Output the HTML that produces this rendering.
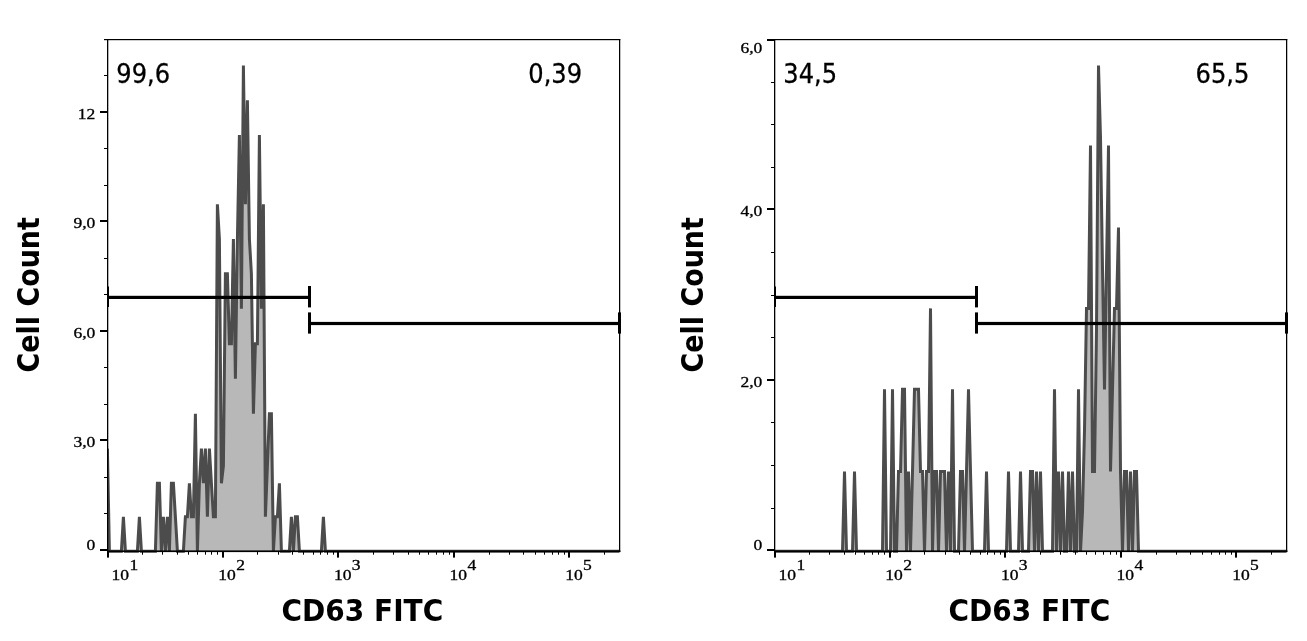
<!DOCTYPE html>
<html lang="en">
<head>
<meta charset="utf-8">
<title>CD63 FITC histograms</title>
<style>
html,body{margin:0;padding:0;background:#fff;}
body{width:1307px;height:641px;overflow:hidden;}
svg{display:block;}
.tk{font-family:"Liberation Serif","DejaVu Serif",serif;font-size:13.9px;fill:#000;stroke:#000;stroke-width:0.3px;}
.pc{font-family:"DejaVu Sans","Liberation Sans",sans-serif;font-size:27px;fill:#000;stroke:#000;stroke-width:0.3px;}
.ti{font-family:"DejaVu Sans","Liberation Sans",sans-serif;font-weight:bold;font-size:29.5px;fill:#000;}
</style>
</head>
<body>
<svg width="1307" height="641" viewBox="0 0 1307 641">
<rect x="0" y="0" width="1307" height="641" fill="#fff"/>
<defs>
<clipPath id="cl"><rect x="107.6" y="30" width="513.4" height="523"/></clipPath>
<clipPath id="cr"><rect x="774.6" y="30" width="513.4" height="523"/></clipPath>
</defs>
<g clip-path="url(#cl)">
<path d="M107.4 448.48 L109.4 551.2 L121.4 551.2 L123.4 516.81 L125.4 551.2 L137.4 551.2 L139.4 516.81 L141.4 551.2 L155.4 551.2 L157.4 483.22 L159.4 483.22 L161.4 551.2 L163.4 516.81 L165.4 551.2 L167.4 516.81 L169.4 551.2 L171.4 483.22 L173.4 483.22 L175.4 516.81 L177.4 551.2 L183.4 551.2 L185.4 516.81 L187.4 516.81 L189.4 483.22 L191.4 516.81 L193.4 516.81 L195.4 413.74 L197.4 551.2 L199.4 483.22 L201.4 448.48 L203.4 483.22 L205.4 448.48 L207.4 516.81 L209.4 448.48 L211.4 483.22 L213.4 516.81 L215.4 516.81 L217.4 204.3 L219.4 238.99 L221.4 483.22 L223.4 465.85 L225.4 273.68 L227.4 273.68 L229.4 343.71 L231.4 343.71 L233.4 238.99 L235.4 378.73 L237.4 238.99 L239.4 134.92 L241.4 308.7 L243.4 65.54 L245.4 204.3 L247.4 100.23 L249.4 238.99 L251.4 273.68 L253.4 413.74 L255.4 343.71 L257.4 343.71 L259.4 134.92 L261.4 308.7 L263.4 204.3 L265.4 516.81 L267.4 465.85 L269.4 413.74 L271.4 413.74 L273.4 551.2 L275.4 516.81 L277.4 516.81 L279.4 483.22 L281.4 551.2 L289.4 551.2 L291.4 516.81 L293.4 551.2 L295.4 516.81 L297.4 516.81 L299.4 551.2 L321.4 551.2 L323.4 516.81 L325.4 551.2 L619.4 551.2 L619.4 551.2 L107.4 551.2 Z" fill="#b8b8b8" stroke="none"/>
<path d="M107.4 448.48 L109.4 551.2 L121.4 551.2 L123.4 516.81 L125.4 551.2 L137.4 551.2 L139.4 516.81 L141.4 551.2 L155.4 551.2 L157.4 483.22 L159.4 483.22 L161.4 551.2 L163.4 516.81 L165.4 551.2 L167.4 516.81 L169.4 551.2 L171.4 483.22 L173.4 483.22 L175.4 516.81 L177.4 551.2 L183.4 551.2 L185.4 516.81 L187.4 516.81 L189.4 483.22 L191.4 516.81 L193.4 516.81 L195.4 413.74 L197.4 551.2 L199.4 483.22 L201.4 448.48 L203.4 483.22 L205.4 448.48 L207.4 516.81 L209.4 448.48 L211.4 483.22 L213.4 516.81 L215.4 516.81 L217.4 204.3 L219.4 238.99 L221.4 483.22 L223.4 465.85 L225.4 273.68 L227.4 273.68 L229.4 343.71 L231.4 343.71 L233.4 238.99 L235.4 378.73 L237.4 238.99 L239.4 134.92 L241.4 308.7 L243.4 65.54 L245.4 204.3 L247.4 100.23 L249.4 238.99 L251.4 273.68 L253.4 413.74 L255.4 343.71 L257.4 343.71 L259.4 134.92 L261.4 308.7 L263.4 204.3 L265.4 516.81 L267.4 465.85 L269.4 413.74 L271.4 413.74 L273.4 551.2 L275.4 516.81 L277.4 516.81 L279.4 483.22 L281.4 551.2 L289.4 551.2 L291.4 516.81 L293.4 551.2 L295.4 516.81 L297.4 516.81 L299.4 551.2 L321.4 551.2 L323.4 516.81 L325.4 551.2 L619.4 551.2" fill="none" stroke="#4c4c4c" stroke-width="3" stroke-linejoin="miter" stroke-miterlimit="4"/>
</g>
<g clip-path="url(#cl)" fill="#000">
<rect x="107" y="295.8" width="203.9" height="3.2" fill="#000"/>
<rect x="308" y="286" width="3" height="21.4" fill="#000"/>
<rect x="106" y="286.5" width="3" height="20.5" fill="#000"/>
<rect x="308" y="321.9" width="313" height="3.2" fill="#000"/>
<rect x="308" y="312.4" width="3" height="21.2" fill="#000"/>
<rect x="618" y="312.4" width="3" height="21.2" fill="#000"/>
</g>
<rect x="104" y="39" width="516.3" height="1.2" fill="#000"/>
<rect x="107" y="39" width="1.3" height="513" fill="#000"/>
<rect x="619" y="39" width="1.25" height="513" fill="#000"/>
<rect x="107" y="550.4" width="513.4" height="1.7" fill="#000"/>
<rect x="107" y="552" width="2" height="5.6" fill="#000"/>
<rect x="142" y="552" width="1" height="2.7" fill="#000"/>
<rect x="162" y="552" width="1" height="2.7" fill="#000"/>
<rect x="177" y="552" width="1" height="2.7" fill="#000"/>
<rect x="188" y="552" width="1" height="2.7" fill="#000"/>
<rect x="197" y="552" width="1" height="2.7" fill="#000"/>
<rect x="205" y="552" width="1" height="2.7" fill="#000"/>
<rect x="211" y="552" width="1" height="2.7" fill="#000"/>
<rect x="217" y="552" width="1" height="2.7" fill="#000"/>
<rect x="222" y="552" width="2" height="5.6" fill="#000"/>
<rect x="257" y="552" width="1" height="2.7" fill="#000"/>
<rect x="278" y="552" width="1" height="2.7" fill="#000"/>
<rect x="292" y="552" width="1" height="2.7" fill="#000"/>
<rect x="303" y="552" width="1" height="2.7" fill="#000"/>
<rect x="313" y="552" width="1" height="2.7" fill="#000"/>
<rect x="320" y="552" width="1" height="2.7" fill="#000"/>
<rect x="327" y="552" width="1" height="2.7" fill="#000"/>
<rect x="333" y="552" width="1" height="2.7" fill="#000"/>
<rect x="337" y="552" width="2" height="5.6" fill="#000"/>
<rect x="373" y="552" width="1" height="2.7" fill="#000"/>
<rect x="393" y="552" width="1" height="2.7" fill="#000"/>
<rect x="408" y="552" width="1" height="2.7" fill="#000"/>
<rect x="419" y="552" width="1" height="2.7" fill="#000"/>
<rect x="428" y="552" width="1" height="2.7" fill="#000"/>
<rect x="436" y="552" width="1" height="2.7" fill="#000"/>
<rect x="443" y="552" width="1" height="2.7" fill="#000"/>
<rect x="449" y="552" width="1" height="2.7" fill="#000"/>
<rect x="453" y="552" width="2" height="5.6" fill="#000"/>
<rect x="489" y="552" width="1" height="2.7" fill="#000"/>
<rect x="509" y="552" width="1" height="2.7" fill="#000"/>
<rect x="523" y="552" width="1" height="2.7" fill="#000"/>
<rect x="535" y="552" width="1" height="2.7" fill="#000"/>
<rect x="544" y="552" width="1" height="2.7" fill="#000"/>
<rect x="552" y="552" width="1" height="2.7" fill="#000"/>
<rect x="558" y="552" width="1" height="2.7" fill="#000"/>
<rect x="564" y="552" width="1" height="2.7" fill="#000"/>
<rect x="568" y="552" width="2" height="5.6" fill="#000"/>
<rect x="604" y="552" width="1" height="2.7" fill="#000"/>
<text class="tk" transform="translate(111.56 579.6) scale(1.26 1)">10</text>
<text class="tk" transform="translate(129.46 570) scale(1.26 1)">1</text>
<text class="tk" transform="translate(218.36 579.6) scale(1.26 1)">10</text>
<text class="tk" transform="translate(236.26 570) scale(1.26 1)">2</text>
<text class="tk" transform="translate(333.96 579.6) scale(1.26 1)">10</text>
<text class="tk" transform="translate(351.86 570) scale(1.26 1)">3</text>
<text class="tk" transform="translate(449.56 579.6) scale(1.26 1)">10</text>
<text class="tk" transform="translate(467.46 570) scale(1.26 1)">4</text>
<text class="tk" transform="translate(565.16 579.6) scale(1.26 1)">10</text>
<text class="tk" transform="translate(583.06 570) scale(1.26 1)">5</text>
<rect x="100" y="549" width="7.5" height="2" fill="#000"/>
<rect x="104" y="513" width="3.5" height="1" fill="#000"/>
<rect x="104" y="477" width="3.5" height="1" fill="#000"/>
<rect x="100" y="439" width="7.5" height="2" fill="#000"/>
<rect x="104" y="404" width="3.5" height="1" fill="#000"/>
<rect x="104" y="367" width="3.5" height="1" fill="#000"/>
<rect x="100" y="330" width="7.5" height="2" fill="#000"/>
<rect x="104" y="294" width="3.5" height="1" fill="#000"/>
<rect x="104" y="258" width="3.5" height="1" fill="#000"/>
<rect x="100" y="220" width="7.5" height="2" fill="#000"/>
<rect x="104" y="185" width="3.5" height="1" fill="#000"/>
<rect x="104" y="148" width="3.5" height="1" fill="#000"/>
<rect x="100" y="111" width="7.5" height="2" fill="#000"/>
<rect x="104" y="75" width="3.5" height="1" fill="#000"/>
<text class="tk" text-anchor="end" transform="translate(95.3 549.5) scale(1.26 1)">0</text>
<text class="tk" text-anchor="end" transform="translate(95.3 446.8) scale(1.26 1)">3,0</text>
<text class="tk" text-anchor="end" transform="translate(95.3 337.8) scale(1.26 1)">6,0</text>
<text class="tk" text-anchor="end" transform="translate(95.3 227.8) scale(1.26 1)">9,0</text>
<text class="tk" text-anchor="end" transform="translate(95.3 118.8) scale(1.26 1)">12</text>
<g clip-path="url(#cr)">
<path d="M774.5 551.3 L842.5 551.3 L844.5 471.43 L846.5 551.3 L852.5 551.3 L854.5 471.43 L856.5 551.3 L882.5 551.3 L884.5 389.36 L886.5 551.3 L890.5 551.3 L892.5 389.36 L894.5 551.3 L896.5 551.3 L898.5 471.43 L900.5 471.43 L902.5 389.36 L904.5 389.36 L906.5 551.3 L908.5 471.43 L910.5 551.3 L912.5 471.43 L914.5 389.36 L918.5 389.36 L920.5 471.43 L922.5 471.43 L924.5 551.3 L926.5 471.43 L928.5 471.43 L930.5 308.39 L932.5 551.3 L934.5 471.43 L936.5 471.43 L938.5 551.3 L940.5 471.43 L944.5 471.43 L946.5 551.3 L948.5 471.43 L950.5 551.3 L952.5 389.36 L954.5 551.3 L958.5 551.3 L960.5 471.43 L962.5 471.43 L964.5 551.3 L966.5 471.43 L968.5 389.36 L970.5 471.43 L972.5 551.3 L984.5 551.3 L986.5 471.43 L988.5 551.3 L1006.5 551.3 L1008.5 471.43 L1010.5 551.3 L1018.5 551.3 L1020.5 471.43 L1022.5 551.3 L1028.5 551.3 L1030.5 471.43 L1032.5 471.43 L1034.5 551.3 L1036.5 471.43 L1038.5 551.3 L1040.5 471.43 L1042.5 551.3 L1052.5 551.3 L1054.5 389.36 L1056.5 551.3 L1058.5 471.43 L1060.5 551.3 L1062.5 471.43 L1064.5 551.3 L1066.5 551.3 L1068.5 471.43 L1070.5 551.3 L1072.5 471.43 L1074.5 551.3 L1076.5 551.3 L1078.5 389.36 L1080.5 551.3 L1082.5 511.36 L1084.5 430.39 L1086.5 308.39 L1088.5 308.39 L1090.5 145.45 L1092.5 471.43 L1094.5 471.43 L1096.5 328.63 L1098.5 65.48 L1100.5 137.45 L1102.5 267.9 L1104.5 389.36 L1106.5 267.9 L1108.5 145.45 L1110.5 471.43 L1112.5 389.36 L1114.5 308.39 L1116.5 308.39 L1118.5 227.42 L1120.5 471.43 L1122.5 551.3 L1124.5 471.43 L1126.5 471.43 L1128.5 551.3 L1130.5 471.43 L1132.5 551.3 L1134.5 471.43 L1136.5 471.43 L1138.5 551.3 L1286.5 551.3 L1286.5 551.3 L774.5 551.3 Z" fill="#b8b8b8" stroke="none"/>
<path d="M774.5 551.3 L842.5 551.3 L844.5 471.43 L846.5 551.3 L852.5 551.3 L854.5 471.43 L856.5 551.3 L882.5 551.3 L884.5 389.36 L886.5 551.3 L890.5 551.3 L892.5 389.36 L894.5 551.3 L896.5 551.3 L898.5 471.43 L900.5 471.43 L902.5 389.36 L904.5 389.36 L906.5 551.3 L908.5 471.43 L910.5 551.3 L912.5 471.43 L914.5 389.36 L918.5 389.36 L920.5 471.43 L922.5 471.43 L924.5 551.3 L926.5 471.43 L928.5 471.43 L930.5 308.39 L932.5 551.3 L934.5 471.43 L936.5 471.43 L938.5 551.3 L940.5 471.43 L944.5 471.43 L946.5 551.3 L948.5 471.43 L950.5 551.3 L952.5 389.36 L954.5 551.3 L958.5 551.3 L960.5 471.43 L962.5 471.43 L964.5 551.3 L966.5 471.43 L968.5 389.36 L970.5 471.43 L972.5 551.3 L984.5 551.3 L986.5 471.43 L988.5 551.3 L1006.5 551.3 L1008.5 471.43 L1010.5 551.3 L1018.5 551.3 L1020.5 471.43 L1022.5 551.3 L1028.5 551.3 L1030.5 471.43 L1032.5 471.43 L1034.5 551.3 L1036.5 471.43 L1038.5 551.3 L1040.5 471.43 L1042.5 551.3 L1052.5 551.3 L1054.5 389.36 L1056.5 551.3 L1058.5 471.43 L1060.5 551.3 L1062.5 471.43 L1064.5 551.3 L1066.5 551.3 L1068.5 471.43 L1070.5 551.3 L1072.5 471.43 L1074.5 551.3 L1076.5 551.3 L1078.5 389.36 L1080.5 551.3 L1082.5 511.36 L1084.5 430.39 L1086.5 308.39 L1088.5 308.39 L1090.5 145.45 L1092.5 471.43 L1094.5 471.43 L1096.5 328.63 L1098.5 65.48 L1100.5 137.45 L1102.5 267.9 L1104.5 389.36 L1106.5 267.9 L1108.5 145.45 L1110.5 471.43 L1112.5 389.36 L1114.5 308.39 L1116.5 308.39 L1118.5 227.42 L1120.5 471.43 L1122.5 551.3 L1124.5 471.43 L1126.5 471.43 L1128.5 551.3 L1130.5 471.43 L1132.5 551.3 L1134.5 471.43 L1136.5 471.43 L1138.5 551.3 L1286.5 551.3" fill="none" stroke="#4c4c4c" stroke-width="3" stroke-linejoin="miter" stroke-miterlimit="4"/>
</g>
<g clip-path="url(#cr)" fill="#000">
<rect x="774" y="295.8" width="203.9" height="3.2" fill="#000"/>
<rect x="975" y="286" width="3" height="21.4" fill="#000"/>
<rect x="773" y="286.5" width="3" height="20.5" fill="#000"/>
<rect x="975" y="321.9" width="313" height="3.2" fill="#000"/>
<rect x="975" y="312.4" width="3" height="21.2" fill="#000"/>
<rect x="1285" y="312.4" width="3" height="21.2" fill="#000"/>
</g>
<rect x="771" y="39" width="516.3" height="1.2" fill="#000"/>
<rect x="774" y="39" width="1.3" height="513" fill="#000"/>
<rect x="1286" y="39" width="1.25" height="513" fill="#000"/>
<rect x="774" y="550.4" width="513.4" height="1.7" fill="#000"/>
<rect x="774" y="552" width="2" height="5.6" fill="#000"/>
<rect x="809" y="552" width="1" height="2.7" fill="#000"/>
<rect x="829" y="552" width="1" height="2.7" fill="#000"/>
<rect x="844" y="552" width="1" height="2.7" fill="#000"/>
<rect x="855" y="552" width="1" height="2.7" fill="#000"/>
<rect x="864" y="552" width="1" height="2.7" fill="#000"/>
<rect x="872" y="552" width="1" height="2.7" fill="#000"/>
<rect x="878" y="552" width="1" height="2.7" fill="#000"/>
<rect x="884" y="552" width="1" height="2.7" fill="#000"/>
<rect x="889" y="552" width="2" height="5.6" fill="#000"/>
<rect x="924" y="552" width="1" height="2.7" fill="#000"/>
<rect x="945" y="552" width="1" height="2.7" fill="#000"/>
<rect x="959" y="552" width="1" height="2.7" fill="#000"/>
<rect x="970" y="552" width="1" height="2.7" fill="#000"/>
<rect x="980" y="552" width="1" height="2.7" fill="#000"/>
<rect x="987" y="552" width="1" height="2.7" fill="#000"/>
<rect x="994" y="552" width="1" height="2.7" fill="#000"/>
<rect x="1000" y="552" width="1" height="2.7" fill="#000"/>
<rect x="1004" y="552" width="2" height="5.6" fill="#000"/>
<rect x="1040" y="552" width="1" height="2.7" fill="#000"/>
<rect x="1060" y="552" width="1" height="2.7" fill="#000"/>
<rect x="1075" y="552" width="1" height="2.7" fill="#000"/>
<rect x="1086" y="552" width="1" height="2.7" fill="#000"/>
<rect x="1095" y="552" width="1" height="2.7" fill="#000"/>
<rect x="1103" y="552" width="1" height="2.7" fill="#000"/>
<rect x="1110" y="552" width="1" height="2.7" fill="#000"/>
<rect x="1116" y="552" width="1" height="2.7" fill="#000"/>
<rect x="1120" y="552" width="2" height="5.6" fill="#000"/>
<rect x="1156" y="552" width="1" height="2.7" fill="#000"/>
<rect x="1176" y="552" width="1" height="2.7" fill="#000"/>
<rect x="1190" y="552" width="1" height="2.7" fill="#000"/>
<rect x="1202" y="552" width="1" height="2.7" fill="#000"/>
<rect x="1211" y="552" width="1" height="2.7" fill="#000"/>
<rect x="1219" y="552" width="1" height="2.7" fill="#000"/>
<rect x="1225" y="552" width="1" height="2.7" fill="#000"/>
<rect x="1231" y="552" width="1" height="2.7" fill="#000"/>
<rect x="1235" y="552" width="2" height="5.6" fill="#000"/>
<rect x="1271" y="552" width="1" height="2.7" fill="#000"/>
<text class="tk" transform="translate(778.56 579.6) scale(1.26 1)">10</text>
<text class="tk" transform="translate(796.46 570) scale(1.26 1)">1</text>
<text class="tk" transform="translate(885.36 579.6) scale(1.26 1)">10</text>
<text class="tk" transform="translate(903.26 570) scale(1.26 1)">2</text>
<text class="tk" transform="translate(1000.96 579.6) scale(1.26 1)">10</text>
<text class="tk" transform="translate(1018.86 570) scale(1.26 1)">3</text>
<text class="tk" transform="translate(1116.56 579.6) scale(1.26 1)">10</text>
<text class="tk" transform="translate(1134.46 570) scale(1.26 1)">4</text>
<text class="tk" transform="translate(1232.16 579.6) scale(1.26 1)">10</text>
<text class="tk" transform="translate(1250.06 570) scale(1.26 1)">5</text>
<rect x="767" y="549" width="7.5" height="2" fill="#000"/>
<rect x="771" y="508" width="3.5" height="1" fill="#000"/>
<rect x="771" y="465" width="3.5" height="1" fill="#000"/>
<rect x="771" y="422" width="3.5" height="1" fill="#000"/>
<rect x="767" y="379" width="7.5" height="2" fill="#000"/>
<rect x="771" y="337" width="3.5" height="1" fill="#000"/>
<rect x="771" y="295" width="3.5" height="1" fill="#000"/>
<rect x="771" y="252" width="3.5" height="1" fill="#000"/>
<rect x="767" y="208" width="7.5" height="2" fill="#000"/>
<rect x="771" y="167" width="3.5" height="1" fill="#000"/>
<rect x="771" y="124" width="3.5" height="1" fill="#000"/>
<rect x="771" y="82" width="3.5" height="1" fill="#000"/>
<rect x="767" y="39" width="7.5" height="2" fill="#000"/>
<text class="tk" text-anchor="end" transform="translate(762.3 549.5) scale(1.26 1)">0</text>
<text class="tk" text-anchor="end" transform="translate(762.3 386.8) scale(1.26 1)">2,0</text>
<text class="tk" text-anchor="end" transform="translate(762.3 215.8) scale(1.26 1)">4,0</text>
<text class="tk" text-anchor="end" transform="translate(762.3 52.7) scale(1.26 1)">6,0</text>
<text class="pc" transform="translate(116.3 83) scale(0.895 1)">99,6</text>
<text class="pc" transform="translate(528.3 83) scale(0.895 1)">0,39</text>
<text class="pc" transform="translate(783.3 83) scale(0.895 1)">34,5</text>
<text class="pc" transform="translate(1195.6 83) scale(0.895 1)">65,5</text>
<text class="ti" text-anchor="middle" transform="translate(362.4 620.5) scale(0.949 1)">CD63 FITC</text>
<text class="ti" text-anchor="middle" transform="translate(1029.4 620.5) scale(0.949 1)">CD63 FITC</text>
<text class="ti" text-anchor="middle" transform="translate(39.3 294.8) rotate(-90) scale(0.914 1)">Cell Count</text>
<text class="ti" text-anchor="middle" transform="translate(703.3 294.8) rotate(-90) scale(0.914 1)">Cell Count</text>
</svg>
</body>
</html>
